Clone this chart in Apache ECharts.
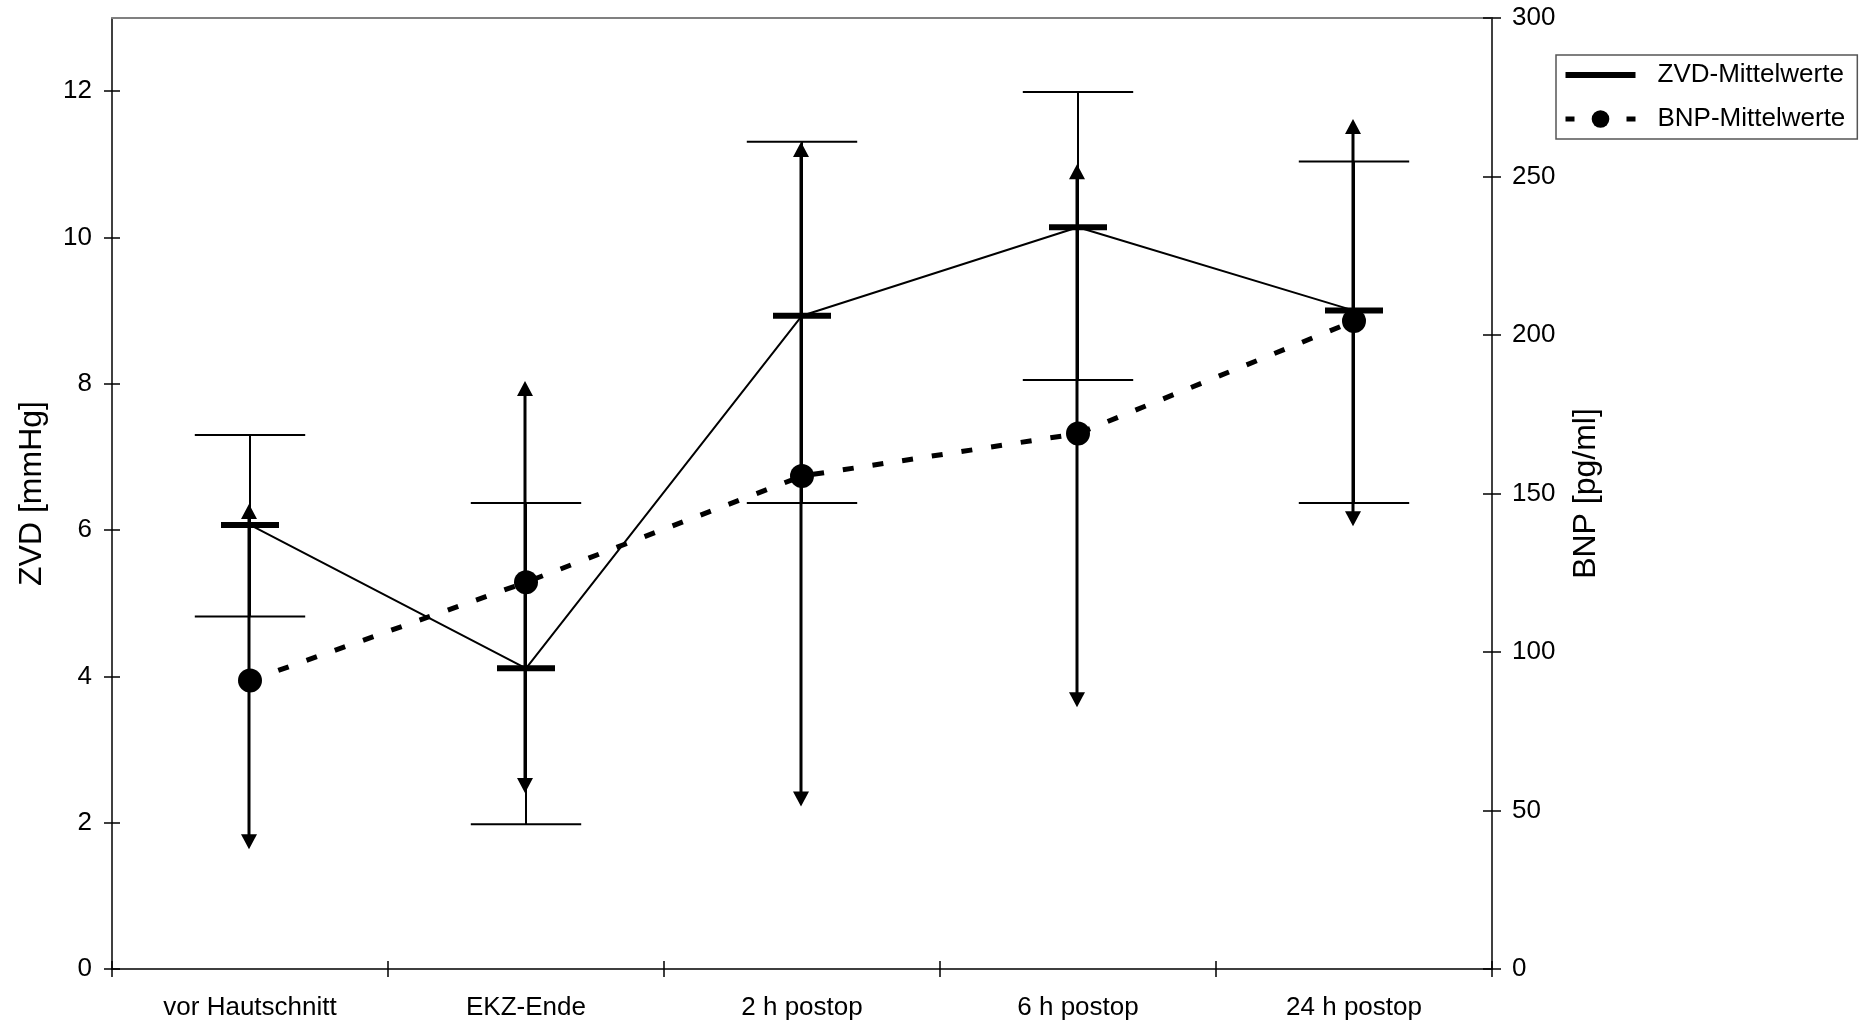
<!DOCTYPE html>
<html><head><meta charset="utf-8">
<script src="https://cdn.jsdelivr.net/npm/echarts@6/dist/echarts.min.js"></script>
<style>html,body{margin:0;padding:0;background:#fff}#c{width:1866px;height:1026px}</style>
</head><body><div id="c"></div>
<script>
const categories = ['vor Hautschnitt', 'EKZ-Ende', '2 h postop', '6 h postop', '24 h postop'];
const zvdMean  = [6.07, 4.11, 8.93, 10.14, 9.00];
const zvdUpper = [7.30, 6.37, 11.31, 11.99, 11.04];
const zvdLower = [4.82, 1.98, 6.37, 8.05, 6.37];
const bnpMean  = [91.0, 122.0, 155.5, 168.9, 204.4];
const bnpUpper = [146.7, 185.5, 260.9, 253.9, 268.1];
const bnpLower = [37.8, 55.5, 51.3, 82.6, 139.7];
const zvdTicks = [0, 2, 4, 6, 8, 10, 12];
const bnpTicks = [0, 50, 100, 150, 200, 250, 300];

const FONT = '"Liberation Sans", Arial, sans-serif';
const chart = echarts.init(document.getElementById('c'), null, {renderer: 'canvas'});

const zvdErrData = categories.map((c, i) => [i, zvdLower[i], zvdUpper[i]]);
const bnpErrData = categories.map((c, i) => [i, bnpLower[i], bnpUpper[i]]);

function renderZvdErr(params, api) {
  const i = api.value(0);
  const lo = api.coord([i, api.value(1)]);
  const hi = api.coord([i, api.value(2)]);
  const band = api.size([1, 0])[0];
  const hw = band * 0.2;
  const st = {stroke: '#000', lineWidth: 2};
  return {type: 'group', children: [
    {type: 'line', shape: {x1: hi[0], y1: hi[1], x2: lo[0], y2: lo[1]}, style: st},
    {type: 'line', shape: {x1: hi[0] - hw, y1: hi[1], x2: hi[0] + hw, y2: hi[1]}, style: st},
    {type: 'line', shape: {x1: lo[0] - hw, y1: lo[1], x2: lo[0] + hw, y2: lo[1]}, style: st}
  ]};
}
function renderBnpErr(params, api) {
  const i = api.value(0);
  const lo = api.coord([i, api.value(1)]);
  const hi = api.coord([i, api.value(2)]);
  const ah = 15, aw = 8, x = hi[0] - 1;
  return {type: 'group', children: [
    {type: 'line', shape: {x1: x, y1: hi[1] + ah - 1, x2: x, y2: lo[1] - ah + 1}, style: {stroke: '#000', lineWidth: 3}},
    {type: 'polygon', shape: {points: [[x, hi[1]], [x - aw, hi[1] + ah], [x + aw, hi[1] + ah]]}, style: {fill: '#000'}},
    {type: 'polygon', shape: {points: [[x, lo[1]], [x - aw, lo[1] - ah], [x + aw, lo[1] - ah]]}, style: {fill: '#000'}}
  ]};
}

const tickStyle = {color: '#000', width: 1.5};
const option = {
  animation: false,
  backgroundColor: '#fff',
  textStyle: {fontFamily: FONT},
  grid: {left: 112, right: 374, top: 18, bottom: 57, containLabel: false, outerBoundsMode: 'none'},
  legend: {
    orient: 'vertical', left: 1556, top: 55,
    itemWidth: 70, itemHeight: 22, itemGap: 18,
    padding: [7, 12, 7, 7],
    borderColor: '#555', borderWidth: 1.5, backgroundColor: '#fff',
    textStyle: {color: '#000', fontSize: 26, fontFamily: FONT, padding: [0, 0, 0, 17]},
    data: [
      {name: 'ZVD-Mittelwerte', icon: 'path://M0,0L70,0L70,6L0,6Z', itemStyle: {color: '#000'}},
      {name: 'BNP-Mittelwerte', lineStyle: {type: [9, 21.5], width: 5, color: '#000'}, itemStyle: {color: '#000'}}
    ]
  },
  xAxis: [
    {type: 'category', data: categories, position: 'bottom', boundaryGap: true,
     axisLine: {onZero: false, lineStyle: {color: '#000', width: 1.5}},
     axisTick: {show: true, length: 8, lineStyle: tickStyle},
     axisLabel: {color: '#000', fontSize: 26, fontFamily: FONT, margin: 26},
     splitLine: {show: false}},
    {type: 'category', data: categories, position: 'bottom', boundaryGap: true,
     axisLine: {show: false, onZero: false}, axisTick: {show: true, inside: true, length: 8, lineStyle: tickStyle},
     axisLabel: {show: false}, splitLine: {show: false}},
    {type: 'category', data: categories, position: 'top', boundaryGap: true,
     axisLine: {show: true, onZero: false, lineStyle: {color: '#808080', width: 2}}, axisTick: {show: false},
     axisLabel: {show: false}, splitLine: {show: false}}
  ],
  yAxis: [
    {type: 'value', position: 'left', min: 0, max: 13, interval: 1,
     name: 'ZVD [mmHg]', nameLocation: 'middle', nameRotate: 90, nameGap: 64,
     nameTextStyle: {color: '#000', fontSize: 32, fontFamily: FONT},
     axisLine: {show: true, onZero: false, lineStyle: {color: '#000', width: 1.5}},
     axisTick: {show: true, length: 8, lineStyle: tickStyle, customValues: zvdTicks},
     axisLabel: {color: '#000', fontSize: 26, fontFamily: FONT, margin: 20, customValues: zvdTicks},
     splitLine: {show: false}},
    {type: 'value', position: 'left', min: 0, max: 13, interval: 1,
     axisLine: {show: false, onZero: false},
     axisTick: {show: true, inside: true, length: 8, lineStyle: tickStyle, customValues: zvdTicks},
     axisLabel: {show: false}, splitLine: {show: false}},
    {type: 'value', position: 'right', min: 0, max: 300, interval: 50,
     name: 'BNP [pg/ml]', nameLocation: 'middle', nameRotate: 90, nameGap: 78,
     nameTextStyle: {color: '#000', fontSize: 32, fontFamily: FONT},
     axisLine: {show: true, onZero: false, lineStyle: {color: '#000', width: 1.5}},
     axisTick: {show: true, length: 9, lineStyle: tickStyle, customValues: bnpTicks},
     axisLabel: {color: '#000', fontSize: 26, fontFamily: FONT, margin: 20, customValues: bnpTicks},
     splitLine: {show: false}},
    {type: 'value', position: 'right', min: 0, max: 300, interval: 50,
     axisLine: {show: false, onZero: false},
     axisTick: {show: true, inside: true, length: 9, lineStyle: tickStyle, customValues: bnpTicks},
     axisLabel: {show: false}, splitLine: {show: false}}
  ],
  series: [
    {name: 'ZVD-Mittelwerte', type: 'line', xAxisIndex: 0, yAxisIndex: 0, data: zvdMean,
     symbol: 'none', lineStyle: {color: '#000', width: 2}, itemStyle: {color: '#000'}, z: 2},
    {name: 'ZVD-SD', type: 'custom', xAxisIndex: 0, yAxisIndex: 0, data: zvdErrData,
     encode: {x: 0, y: [1, 2]}, renderItem: renderZvdErr, z: 3},
    {name: 'ZVD-Balken', type: 'scatter', xAxisIndex: 0, yAxisIndex: 0, data: zvdMean,
     symbol: 'rect', symbolSize: [58, 6], itemStyle: {color: '#000', opacity: 1}, z: 4},
    {name: 'BNP-SD', type: 'custom', xAxisIndex: 0, yAxisIndex: 2, data: bnpErrData,
     encode: {x: 0, y: [1, 2]}, renderItem: renderBnpErr, z: 3},
    {name: 'BNP-Mittelwerte', type: 'line', xAxisIndex: 0, yAxisIndex: 2, data: bnpMean,
     symbol: 'circle', symbolSize: 24, showAllSymbol: true,
     lineStyle: {color: '#000', width: 5, type: [11, 19], cap: 'butt'},
     itemStyle: {color: '#000', opacity: 1}, z: 5}
  ]
};
chart.setOption(option);
</script></body></html>
